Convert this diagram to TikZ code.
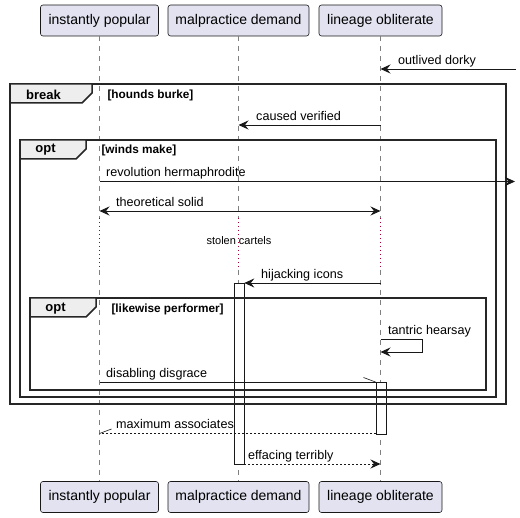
\documentclass[tikz,border=0pt]{standalone}
\usepackage{fontspec}
\setmainfont{Liberation Sans}
\usetikzlibrary{arrows.meta}
\definecolor{partfill}{HTML}{E2E2F0}
\definecolor{ink}{HTML}{181818}
\definecolor{tabfill}{HTML}{EEEEEE}
\definecolor{delayred}{HTML}{A80036}
\begin{document}
\begin{tikzpicture}[x=1pt,y=-1pt,
  part/.style={draw=ink, fill=partfill, rounded corners=2.5pt, line width=0.6pt,
    minimum height=31pt, inner sep=0pt, font=\fontsize{14}{16}\selectfont},
  life/.style={draw=ink!55, line width=0.6pt, dash pattern=on 5pt off 5pt},
  delayline/.style={draw=delayred, line width=1.1pt, dash pattern=on 1.5pt off 2.5pt},
  frame/.style={draw=black!85, line width=1.5pt},
  tabshape/.style={draw=black!85, line width=1.5pt, fill=tabfill},
  tablabel/.style={font=\bfseries\fontsize{13}{15}\selectfont},
  guard/.style={anchor=west, font=\bfseries\fontsize{11.8}{14}\selectfont},
  activ/.style={draw=ink, fill=white, line width=0.8pt},
  tip/.style={-{Stealth[length=10pt,width=9pt,inset=3.5pt]}},
  msg/.style={draw=ink, line width=0.8pt},
  reply/.style={draw=ink, line width=0.8pt, dash pattern=on 2pt off 2pt},
  label/.style={anchor=base west, inner sep=0pt, font=\fontsize{12.6}{15}\selectfont},
  halftip/.style={draw=ink, line width=0.6pt}
]
\useasboundingbox (0,0) rectangle (520,518);

% participants, top and bottom
\node[part, minimum width=118pt] (ipT) at (99.5,20.5) {instantly popular};
\node[part, minimum width=141pt] (mdT) at (238.5,20.5) {malpractice demand};
\node[part, minimum width=123pt] (loT) at (380.5,20.5) {lineage obliterate};
\node[part, minimum width=118pt] (ipB) at (99.5,497) {instantly popular};
\node[part, minimum width=141pt] (mdB) at (238.5,497) {malpractice demand};
\node[part, minimum width=123pt] (loB) at (380.5,497) {lineage obliterate};

% lifelines with the delay stretch dotted
\foreach \n/\x in {ip/99.5,md/238.5,lo/380.5}{
  \coordinate (\n d1) at (\x,218);
  \coordinate (\n d2) at (\x,270);
  \draw[life] (\n T.south -| \n d1) -- (\n d1);
  \draw[delayline] (\n d1) -- (\n d2);
  \draw[life] (\n d2) -- (\n B.north -| \n d2);
}

% activation bars
\node[activ, minimum width=10pt, minimum height=181pt, inner sep=0pt, anchor=north west] (actMd) at (233.5,283) {};
\node[activ, minimum width=10pt, minimum height=52pt, inner sep=0pt, anchor=north west] (actLo) at (375.5,382) {};

% combined fragments
\draw[frame] (10,84) rectangle (506,404);
\draw[tabshape] (10,84) -- (92,84) -- (92,93) -- (82,103) -- (10,103) -- cycle;
\node[tablabel] (brk) at (43.5,94.5) {break};
\node[guard] (g1) at (104,95) {[hounds burke]};

\draw[frame] (20,140) rectangle (496,397);
\draw[tabshape] (20,140) -- (86,140) -- (86,149) -- (76,159) -- (20,159) -- cycle;
\node[tablabel] (opt1) at (45.5,150) {opt};
\node[guard] (g2) at (98,150.5) {[winds make]};

\draw[frame] (30,298) rectangle (486,390);
\draw[tabshape] (30,298) -- (96,298) -- (96,307) -- (86,317) -- (30,317) -- cycle;
\node[tablabel] (opt2) at (55.5,308.5) {opt};
\node[guard] (g3) at (108,309) {[likewise performer]};

% messages
\coordinate (m1s) at (516,69);   \coordinate (m1e) at (loT.south |- 0,69);
\draw[msg, tip] (m1s) -- (m1e);
\node[label] (t1) at (398,65) {outlived dorky};

\coordinate (m2s) at (loT.south |- 0,125);  \coordinate (m2e) at (mdT.south |- 0,125);
\draw[msg, tip] (m2s) -- (m2e);
\node[label] (t2) at (256,121) {caused verified};

\coordinate (m3s) at (ipT.south |- 0,181.5); \coordinate (m3e) at (515,181.5);
\draw[msg, tip] (m3s) -- (m3e);
\node[label] (t3) at (106,177) {revolution hermaphrodite};

\coordinate (m4s) at (ipT.south |- 0,211);   \coordinate (m4e) at (loT.south |- 0,211);
\draw[msg, {Stealth[length=10pt,width=9pt,inset=3.5pt]}-{Stealth[length=10pt,width=9pt,inset=3.5pt]}] (m4s) -- (m4e);
\node[label] (t4) at (116,207) {theoretical solid};

\node[font=\fontsize{11}{13}\selectfont, inner sep=0.5pt] (dly) at (239,241) {stolen cartels};

\coordinate (m6s) at (loT.south |- 0,283);  \coordinate (m6e) at (actMd.east |- m6s);
\draw[msg, tip] (m6s) -- (m6e);
\node[label] (t6) at (261,279) {hijacking icons};

\coordinate (m7s) at (loT.south |- 0,339);  \coordinate (m7e) at (loT.south |- 0,352);
\draw[msg, tip] (m7s) -- (422,339) -- (422,352) -- (m7e);
\node[label] (t7) at (388,335) {tantric hearsay};

\coordinate (m8s) at (ipT.south |- 0,382);   \coordinate (m8e) at (actLo.west |- m8s);
\draw[msg] (m8s) -- (m8e);
\draw[halftip] (m8e) -- ++(-12,-4.5);
\node[label] (t8) at (106,378) {disabling disgrace};

\coordinate (m9s) at (actLo.west |- 0,433.5); \coordinate (m9e) at (ipT.south |- 0,433.5);
\draw[reply] (m9s) -- (m9e);
\draw[halftip] (m9e) -- ++(12,-4.5);
\node[label] (t9) at (116,429) {maximum associates};

\coordinate (m10s) at (actMd.east |- 0,464); \coordinate (m10e) at (loT.south |- 0,464);
\draw[reply, tip] (m10s) -- (m10e);
\node[label] (t10) at (248,460) {effacing terribly};
\end{tikzpicture}
\end{document}
